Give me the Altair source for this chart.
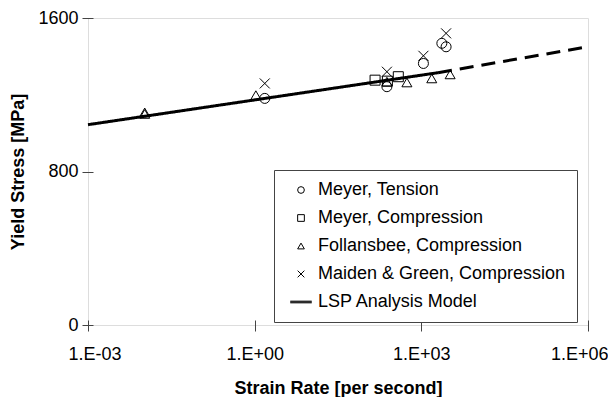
import altair as alt
import pandas as pd

# ---- data ----
series_names = ["Meyer, Tension", "Meyer, Compression", "Follansbee, Compression",
                "Maiden & Green, Compression", "LSP Analysis Model"]

tension_rate = [1.52, 240, 1090, 2340, 2790]
tension_stress = [1181, 1242, 1363, 1468, 1450]

mcomp_rate = [147, 245, 385]
mcomp_stress = [1276, 1271, 1294]

foll_rate = [0.0105, 0.0105, 1.05, 240, 550, 1540, 3300]
foll_stress = [1100, 1108, 1198, 1268, 1264, 1285, 1306]

mg_rate = [1.52, 240, 1090, 2790]
mg_stress = [1259, 1320, 1403, 1520]

model_rate = [0.001, 2000, 2000, 1000000]
model_stress = [1044, 1315, 1315, 1450]
model_segment = ["solid", "solid", "dashed", "dashed"]

x_tick_values = [0.001, 1, 1000, 1000000]
x_tick_labels = ["1.E-03", "1.E+00", "1.E+03", "1.E+06"]
y_tick_values = [0, 800, 1600]

# ---- tables ----
rows = []
for name, rates, stresses in [
    (series_names[0], tension_rate, tension_stress),
    (series_names[1], mcomp_rate, mcomp_stress),
    (series_names[2], foll_rate, foll_stress),
    (series_names[3], mg_rate, mg_stress),
]:
    for r, s in zip(rates, stresses):
        rows.append({"rate": r, "stress": s, "series": name})
points_df = pd.DataFrame(rows)

model_df = pd.DataFrame({"rate": model_rate, "stress": model_stress, "segment": model_segment})

# label expression built from the tick lists
expr = "''"
for v, lab in reversed(list(zip(x_tick_values, x_tick_labels))):
    expr = f"(abs(datum.value - {v}) < {v} * 0.01 ? '{lab}' : {expr})"

FONT = "Liberation Sans"
FS = 18

x_scale = alt.Scale(type="log", domain=[0.001, 1000000])
y_scale = alt.Scale(domain=[0, 1600])

x_axis = alt.Axis(values=x_tick_values, labelExpr=expr, title="Strain Rate [per second]",
                  domain=False, grid=False, tickSize=11, offset=-5, tickColor="#444",
                  labelPadding=14, titlePadding=16, labelFontSize=FS, titleFontSize=FS,
                  labelFont=FONT, titleFont=FONT, titleFontWeight="bold",
                  labelColor="black", titleColor="black",
                  labelFlush=True, labelFlushOffset=20)
y_axis = alt.Axis(values=y_tick_values, format="d", title="Yield Stress [MPa]",
                  domain=False, grid=False, tickSize=11, offset=-5, tickColor="#444",
                  labelPadding=4, titlePadding=10, labelFontSize=FS, titleFontSize=FS,
                  labelFont=FONT, titleFont=FONT, titleFontWeight="bold",
                  labelColor="black", titleColor="black")

x_path = "M-1,-1L1,1M-1,1L1,-1"
line_path = "M-3.2,-0.25L3.2,-0.25M-3.2,0L3.2,0M-3.2,0.25L3.2,0.25"

shape_scale = alt.Scale(domain=series_names,
                        range=["circle", "square", "triangle-up", x_path, line_path])

legend = alt.Legend(
    title=None, orient="none", legendX=186, legendY=152,
    strokeColor="#444", fillColor="white", padding=11,
    labelFont=FONT, labelFontSize=FS, labelColor="black", labelLimit=500,
    symbolSize=45, symbolStrokeColor="black", symbolStrokeWidth=1,
    symbolFillColor="transparent", symbolOffset=7, rowPadding=10, labelOffset=8,
)

pts = alt.Chart(points_df).mark_point(filled=False, color="black", strokeWidth=1, size=100, opacity=1).encode(
    x=alt.X("rate:Q", scale=x_scale, axis=x_axis),
    y=alt.Y("stress:Q", scale=y_scale, axis=y_axis),
    shape=alt.Shape("series:N", scale=shape_scale, legend=legend),
)

line = alt.Chart(model_df).mark_line(color="black", strokeWidth=3).encode(
    x=alt.X("rate:Q", scale=x_scale),
    y=alt.Y("stress:Q", scale=y_scale),
    detail="segment:N",
    strokeDash=alt.StrokeDash("segment:N",
                              scale=alt.Scale(domain=["solid", "dashed"], range=[[1, 0], [14, 8]]),
                              legend=None),
)

chart = alt.layer(line, pts).properties(
    width=500, height=307,
    autosize=alt.AutoSizeParams(type="none"),
    padding={"left": 80, "top": 10, "right": 20, "bottom": 72},
).configure_view(stroke="#777", strokeWidth=1.5).configure(background="white")

chart.save("out.html", embed_options={"renderer": "svg", "actions": False})
